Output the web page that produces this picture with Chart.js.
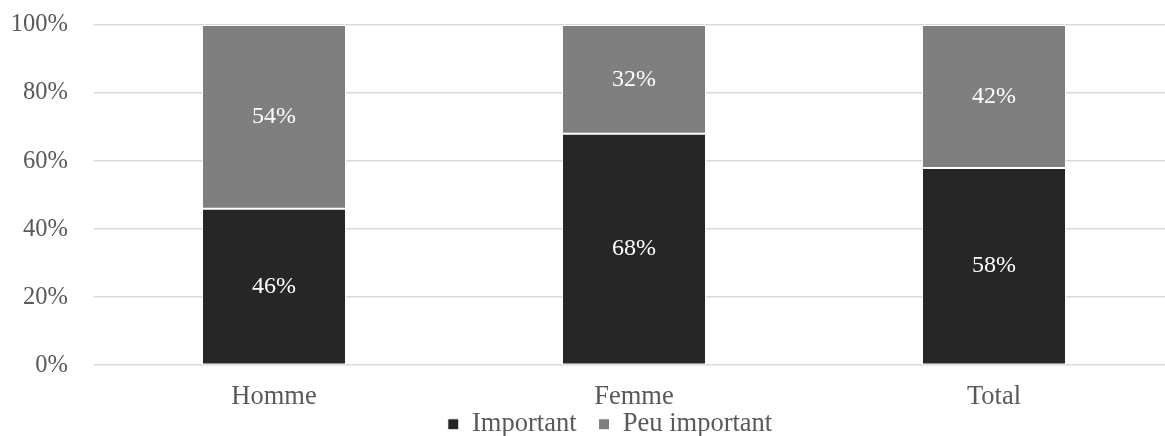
<!DOCTYPE html>
<html>
<head>
<meta charset="utf-8">
<script src="https://cdn.jsdelivr.net/npm/chart.js@4/dist/chart.umd.min.js"></script>
<style>
  html, body { margin: 0; padding: 0; background: #fff; overflow: hidden; }
  #wrap { width: 1174px; height: 436px; }
</style>
</head>
<body>
<div id="wrap"><canvas id="c"></canvas></div>
<script>
const categories = ['Homme', 'Femme', 'Total'];
const seriesNames = ['Important', 'Peu important'];
const important = [46, 68, 58];
const peuImportant = [54, 32, 42];
const yTicks = [0, 20, 40, 60, 80, 100];

const FONT = "'Liberation Serif', 'Times New Roman', serif";
const TEXT = '#595959';

const labelPlugin = {
  id: 'segLabels',
  afterLayout(chart) {
    // nudge the legend row to sit where the original's legend sits
    chart.legend.left += 46;
    chart.legend.top -= 40;
    chart.legend.bottom -= 40;
  },
  afterDatasetsDraw(chart) {
    const ctx = chart.ctx;
    ctx.save();
    ctx.font = '24px ' + FONT;
    ctx.fillStyle = '#ffffff';
    ctx.textAlign = 'center';
    ctx.textBaseline = 'middle';
    chart.data.datasets.forEach((ds, di) => {
      const meta = chart.getDatasetMeta(di);
      meta.data.forEach((bar, i) => {
        const p = bar.getProps(['x', 'y', 'base'], true);
        ctx.fillText(ds.data[i] + '%', p.x, (p.y + p.base) / 2);
      });
    });
    ctx.restore();
  }
};

new Chart(document.getElementById('c'), {
  type: 'bar',
  data: {
    labels: categories,
    datasets: [
      { label: seriesNames[0], data: important, backgroundColor: '#262626', borderColor: '#ffffff', borderWidth: 1, borderSkipped: false },
      { label: seriesNames[1], data: peuImportant, backgroundColor: '#7f7f7f', borderColor: '#ffffff', borderWidth: 1, borderSkipped: false }
    ]
  },
  options: {
    responsive: true,
    maintainAspectRatio: false,
    animation: false,
    datasets: { bar: { barPercentage: 0.8, categoryPercentage: 0.5 } },
    layout: { padding: { top: 25, right: 0, left: 0, bottom: -51.5 } },
    plugins: {
      legend: {
        position: 'bottom',
        labels: {
          font: { family: FONT, size: 26.5 },
          color: TEXT,
          boxWidth: 11,
          boxHeight: 11,
          padding: 22
        }
      },
      tooltip: { enabled: false }
    },
    scales: {
      x: {
        stacked: true,
        grid: { display: false, drawTicks: false },
        border: { display: false },
        ticks: { font: { family: FONT, size: 26.5 }, color: TEXT, padding: 16 }
      },
      y: {
        stacked: true,
        min: 0,
        max: 100,
        afterFit(scale) { scale.width = 94; scale.paddingTop = 0; scale.paddingBottom = 0; },
        afterBuildTicks(scale) { scale.ticks = yTicks.map(v => ({ value: v })); },
        grid: { color: '#d9d9d9', lineWidth: 1.5, drawTicks: false },
        border: { display: false },
        ticks: { font: { family: FONT, size: 24.5 }, color: TEXT, padding: 26, callback: v => v + '%' }
      }
    }
  },
  plugins: [labelPlugin]
});
</script>
</body>
</html>
